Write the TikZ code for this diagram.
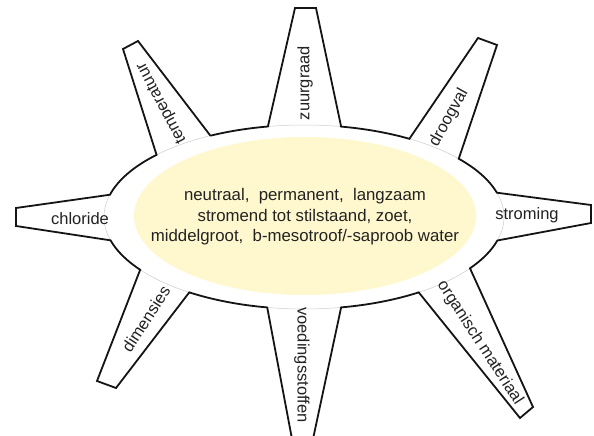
\documentclass[tikz,border=0pt]{standalone}
\usepackage{fontspec}
\setmainfont{Liberation Sans}
\usetikzlibrary{calc}
\definecolor{corefill}{HTML}{FFF8CE}
\definecolor{inktext}{HTML}{222222}
\begin{document}
\begin{tikzpicture}[x=1pt,y=1pt,
  outline/.style={draw=black!92, line width=1.8pt, line join=miter},
  seam/.style={draw=black!20, line width=0.5pt},
  raylabel/.style={font=\fontsize{16.5}{20}\selectfont, text=inktext, inner sep=0pt},
  corelabel/.style={font=\fontsize{16.8}{20.5}\selectfont, text=inktext, align=center, inner sep=0pt},
]
\useasboundingbox (0,0) rectangle (594,436);
\fill[white] (0,0) rectangle (594,436);

% centre of the outer ellipse (radii 200 x 92)
\coordinate (O) at (304,219);

% points where the rays meet the outer ellipse
\foreach \n/\a in {tempR/117.9, zuurL/100.4, zuurR/79.3, droogL/58.2, droogR/39.3,
                   stromT/15.3, stromB/-14.8, orgT/-33.9, orgB/-55, voedR/-79.3,
                   voedL/-100.6, dimR/-125, dimL/-145, chlB/-165.3, chlT/-194, tempL/-222.5}
  \coordinate (\n) at ($(O)+(\a:200 and 92)$);

% outer ends of the rays
\coordinate (zuurTipL) at (295,428);  \coordinate (zuurTipR) at (316,428);
\coordinate (droogTipL) at (478,398); \coordinate (droogTipR) at (497,391);
\coordinate (stromTipT) at (591,231); \coordinate (stromTipB) at (591,213);
\coordinate (orgTipR) at (533,29);    \coordinate (orgTipL) at (520,18);
\coordinate (voedTipR) at (313,-3);   \coordinate (voedTipL) at (292,-3);
\coordinate (dimTipR) at (116,48);    \coordinate (dimTipL) at (97,55);
\coordinate (chlTipB) at (16,210);    \coordinate (chlTipT) at (16,228);
\coordinate (tempTipL) at (123,387);  \coordinate (tempTipR) at (138,395);

% white body of the star
\path[fill=white]
  (tempR) arc[start angle=117.9, end angle=100.4, x radius=200, y radius=92]
  -- (zuurTipL) -- (zuurTipR) -- (zuurR)
  arc[start angle=79.3, end angle=58.2, x radius=200, y radius=92]
  -- (droogTipL) -- (droogTipR) -- (droogR)
  arc[start angle=39.3, end angle=15.3, x radius=200, y radius=92]
  -- (stromTipT) -- (stromTipB) -- (stromB)
  arc[start angle=-14.8, end angle=-33.9, x radius=200, y radius=92]
  -- (orgTipR) -- (orgTipL) -- (orgB)
  arc[start angle=-55, end angle=-79.3, x radius=200, y radius=92]
  -- (voedTipR) -- (voedTipL) -- (voedL)
  arc[start angle=-100.6, end angle=-125, x radius=200, y radius=92]
  -- (dimTipR) -- (dimTipL) -- (dimL)
  arc[start angle=-145, end angle=-165.3, x radius=200, y radius=92]
  -- (chlTipB) -- (chlTipT) -- (chlT)
  arc[start angle=-194, end angle=-222.5, x radius=200, y radius=92]
  -- (tempTipL) -- (tempTipR) -- cycle;

% faint seam where each ray joins the ellipse
\draw[seam] (O) ellipse[x radius=200, y radius=92];

% black outline
\draw[outline]
  (tempR) arc[start angle=117.9, end angle=100.4, x radius=200, y radius=92]
  -- (zuurTipL) -- (zuurTipR) -- (zuurR)
  arc[start angle=79.3, end angle=58.2, x radius=200, y radius=92]
  -- (droogTipL) -- (droogTipR) -- (droogR)
  arc[start angle=39.3, end angle=15.3, x radius=200, y radius=92]
  -- (stromTipT) -- (stromTipB) -- (stromB)
  arc[start angle=-14.8, end angle=-33.9, x radius=200, y radius=92]
  -- (orgTipR) -- (orgTipL) -- (orgB)
  arc[start angle=-55, end angle=-79.3, x radius=200, y radius=92]
  -- (voedTipR) -- (voedTipL) -- (voedL)
  arc[start angle=-100.6, end angle=-125, x radius=200, y radius=92]
  -- (dimTipR) -- (dimTipL) -- (dimL)
  arc[start angle=-145, end angle=-165.3, x radius=200, y radius=92]
  -- (chlTipB) -- (chlTipT) -- (chlT)
  arc[start angle=-194, end angle=-222.5, x radius=200, y radius=92]
  -- (tempTipL) -- (tempTipR) -- (tempR);

% pale yellow core
\fill[corefill] (305,220) ellipse[x radius=171, y radius=79];

\node[corelabel] (core) at (305,219)
  {neutraal,\ \ permanent,\ \ langzaam\\
   stromend tot stilstaand, zoet,\\
   middelgroot,\ \ b-mesotroof/-saproob water};

% ray labels
\node[raylabel, rotate=118] (temp)  at (162,333) {temperatuur};
\node[raylabel, rotate=90]  (zuur)  at (305,353) {zuurgraad};
\node[raylabel, rotate=61]  (droog) at (449,318) {droogval};
\node[raylabel]             (strom) at (527,221) {stroming};
\node[raylabel, rotate=-57] (org)   at (480,93)  {organisch materiaal};
\node[raylabel, rotate=-90] (voed)  at (302,71)  {voedingsstoffen};
\node[raylabel, rotate=57]  (dim)   at (146,117) {dimensies};
\node[raylabel]             (chl)   at (80,217)  {chloride};
\end{tikzpicture}
\end{document}
